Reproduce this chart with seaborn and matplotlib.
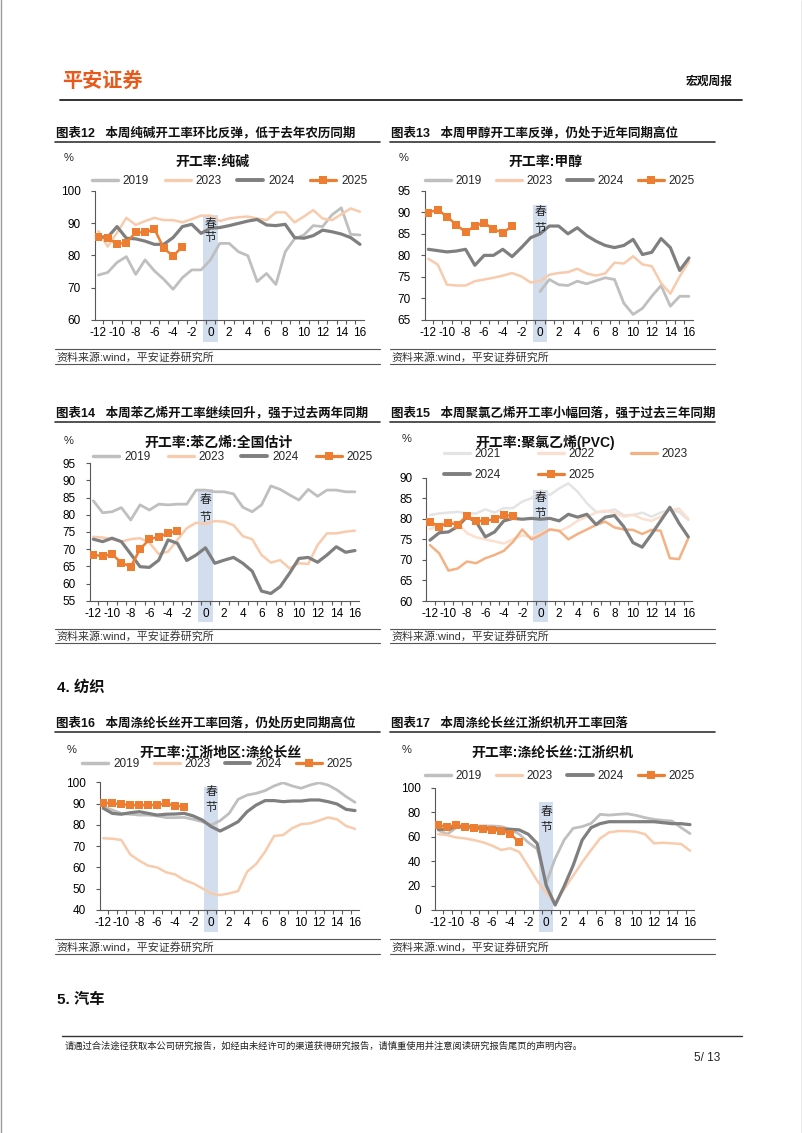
import numpy as np
import matplotlib
matplotlib.use("Agg")
import matplotlib.pyplot as plt
import seaborn as sns
from matplotlib.lines import Line2D

W, H = 802, 1133
sns.set_style("white")
plt.rcParams['font.family'] = ['Liberation Sans', 'Noto Sans CJK SC', 'DejaVu Sans']
plt.rcParams['axes.unicode_minus'] = False
CJK = ['Noto Sans CJK SC', 'Liberation Sans', 'DejaVu Sans']
MIX = ['Liberation Sans', 'Noto Sans CJK SC', 'DejaVu Sans']

# ---------------- data ----------------
weeks = list(range(-12, 17))
weeks_2025 = list(range(-12, -2))
weeks_from0 = list(range(0, 17))
tick_weeks = list(range(-12, 17, 2))

soda_2019 = [73.9, 74.7, 77.8, 79.6, 74.1, 78.6, 75.2, 72.6, 69.5, 73.1, 75.5, 75.5, 78.6, 83.7, 83.7,
             81.1, 79.9, 71.9, 74.4, 71.0, 81.1, 85.1, 86.3, 89.2, 88.9, 92.5, 94.7, 86.5, 86.3]
soda_2023 = [87.5, 82.7, 87.0, 91.6, 89.4, 90.6, 91.6, 90.9, 90.9, 90.2, 91.2, 92.3, 92.3, 90.6, 91.4,
             91.8, 92.0, 91.4, 90.9, 93.3, 93.3, 90.2, 92.0, 94.0, 91.4, 90.9, 92.7, 94.5, 93.5]
soda_2024 = [85.8, 85.6, 88.9, 85.3, 85.1, 84.4, 83.4, 83.4, 85.5, 88.9, 89.6, 86.8, 88.4, 88.6, 89.2,
             89.9, 90.6, 91.1, 89.4, 89.2, 89.6, 85.5, 85.3, 86.1, 87.8, 87.3, 86.6, 85.5, 83.4]
soda_2025 = [85.6, 85.3, 83.5, 83.9, 87.1, 87.1, 88.2, 82.2, 79.8, 82.7]

methanol_2019 = [71.6, 74.4, 73.2, 73.0, 74.0, 73.4, 74.1, 74.8, 74.4, 68.9, 66.3, 67.7, 70.5, 73.0,
                 68.2, 70.5, 70.5]
methanol_2023 = [79.2, 77.9, 73.2, 73.0, 73.0, 74.0, 74.4, 74.8, 75.3, 75.9, 75.1, 73.7, 74.0, 75.5, 75.9,
                 76.1, 76.9, 75.8, 75.3, 75.8, 78.3, 78.1, 79.8, 77.9, 77.5, 73.6, 71.1, 75.1, 78.6]
methanol_2024 = [81.4, 81.1, 80.8, 81.0, 81.4, 77.7, 80.0, 80.0, 81.4, 79.7, 81.8, 84.1, 85.0, 86.8, 86.8,
                 85.0, 86.4, 84.6, 83.3, 82.3, 81.8, 82.3, 83.7, 80.2, 80.7, 83.9, 81.8, 76.5, 79.4]
methanol_2025 = [89.9, 90.6, 89.0, 87.1, 85.4, 86.8, 87.6, 86.0, 85.3, 86.7]

styrene_2019 = [84.1, 80.6, 80.9, 82.1, 78.5, 82.9, 81.4, 83.1, 82.9, 83.1, 83.1, 87.2, 87.2, 86.7, 86.7,
                86.1, 82.2, 80.9, 82.9, 88.4, 87.4, 85.8, 84.3, 87.4, 85.4, 87.2, 87.2, 86.7, 86.7]
styrene_2023 = [73.6, 73.4, 72.9, 72.2, 72.9, 73.2, 71.9, 68.6, 69.3, 72.7, 76.1, 77.7, 77.3, 78.2, 78.0,
                77.0, 73.8, 72.9, 68.3, 66.1, 66.8, 64.4, 65.9, 65.7, 71.2, 74.6, 74.6, 75.1, 75.4]
styrene_2024 = [72.9, 72.2, 73.2, 72.2, 68.6, 64.9, 64.7, 66.8, 72.7, 71.7, 66.7, 68.3, 70.4, 65.9, 66.8,
                67.6, 65.9, 63.6, 57.8, 57.1, 59.1, 63.0, 67.3, 67.6, 66.2, 68.3, 70.7, 69.1, 69.6]
styrene_2025 = [68.3, 68.0, 68.5, 66.1, 64.9, 70.0, 72.9, 73.6, 74.6, 75.4]

pvc_2021 = [80.9, 81.3, 81.5, 81.7, 81.3, 81.3, 82.3, 81.5, 82.6, 82.6, 84.2, 85.0, 87.0, 85.8, 87.4,
            88.6, 86.6, 83.8, 81.7, 81.7, 82.3, 80.9, 80.9, 81.5, 80.5, 81.5, 82.1, 81.7, 79.7]
pvc_2022 = [77.5, 78.5, 79.5, 79.0, 76.5, 75.5, 75.0, 74.5, 74.0, 75.0, 76.0, 75.5, 76.5, 77.5, 77.0,
            78.0, 79.5, 80.5, 81.5, 82.0, 81.5, 80.5, 81.0, 80.0, 79.5, 80.5, 82.0, 82.5, 80.0]
pvc_2023 = [73.6, 71.6, 67.4, 67.9, 69.6, 69.2, 70.4, 71.2, 72.2, 74.4, 77.4, 75.0, 76.1, 77.4, 77.1,
            75.0, 76.3, 77.4, 78.5, 79.3, 77.9, 77.4, 77.3, 76.3, 77.3, 77.1, 70.4, 70.2, 75.3]
pvc_2024 = [74.8, 76.6, 76.8, 78.1, 80.5, 79.3, 75.6, 76.8, 79.5, 80.1, 79.9, 80.1, 79.9, 80.1, 79.5,
            81.1, 80.4, 81.1, 78.6, 80.4, 80.8, 78.1, 74.2, 73.1, 76.2, 79.5, 82.8, 78.9, 75.6]
pvc_2025 = [79.3, 78.1, 79.0, 78.6, 80.7, 79.5, 79.5, 79.9, 80.9, 80.7]

poy_2019 = [88.5, 87.0, 85.4, 85.0, 84.6, 84.6, 84.2, 83.4, 83.4, 83.5, 82.6, 81.5, 79.9, 82.0, 85.4,
            92.0, 94.0, 94.8, 96.1, 98.3, 99.8, 98.3, 97.2, 98.7, 99.8, 98.7, 96.4, 93.3, 90.6]
poy_2023 = [73.7, 73.5, 72.9, 66.1, 63.2, 60.8, 60.0, 57.7, 56.7, 54.1, 52.5, 50.2, 47.8, 47.0, 47.8,
            48.9, 58.0, 61.6, 67.4, 74.8, 75.2, 78.4, 80.3, 80.7, 82.0, 83.5, 82.6, 79.5, 78.1]
poy_2024 = [87.8, 85.4, 85.0, 85.7, 86.2, 85.4, 84.6, 85.0, 85.1, 85.4, 84.2, 82.3, 79.2, 77.1, 79.2,
            81.5, 86.2, 89.3, 91.4, 91.4, 90.9, 91.2, 91.2, 91.7, 91.7, 90.9, 89.8, 87.3, 86.7]
poy_2025 = [90.4, 90.1, 89.7, 89.3, 89.3, 89.3, 89.3, 90.1, 88.9, 88.6]

loom_2019 = [65.2, 62.0, 67.4, 68.7, 68.7, 68.7, 68.7, 68.2, 66.0, 62.0, 55.3, 49.9, 22.0, 42.0, 57.3,
             66.8, 68.2, 70.8, 78.2, 77.6, 78.2, 78.7, 77.4, 75.5, 74.1, 73.3, 72.8, 67.4, 62.5]
loom_2023 = [62.0, 61.2, 59.3, 58.5, 57.1, 55.3, 52.6, 49.1, 50.5, 47.5, 36.0, 24.0, 14.0, 6.0, 17.0,
             28.0, 39.0, 49.0, 58.5, 63.5, 64.5, 64.5, 64.0, 62.0, 54.5, 55.0, 54.5, 54.0, 48.5]
loom_2024 = [66.0, 66.0, 67.9, 68.2, 67.4, 66.8, 66.6, 66.0, 66.0, 65.5, 62.0, 54.4, 20.2, 4.0, 19.4,
             36.4, 57.1, 67.4, 70.6, 72.2, 72.2, 72.2, 72.2, 72.2, 72.2, 71.4, 70.6, 70.6, 69.8]
loom_2025 = [69.3, 68.2, 69.3, 68.2, 66.8, 66.0, 65.5, 64.7, 62.5, 55.3]

# ---------------- styles ----------------
C2019 = '#BFBFBF'
C2023 = '#F8CBAD'
C2024 = '#7F7F7F'
C2025 = '#ED7D31'
C2021 = '#E4E4E4'
C2022 = '#FBE0CF'
C2023B = '#F4B183'
BAND = '#D2DDEE'
AXC = '#595959'

S19 = dict(color=C2019, lw=2.0)
S23 = dict(color=C2023, lw=1.8)
S24 = dict(color=C2024, lw=2.3)
S25 = dict(color=C2025, lw=1.8, marker='s')
S21 = dict(color=C2021, lw=1.8)
S22 = dict(color=C2022, lw=1.8)
S23B = dict(color=C2023B, lw=1.8)

fig = plt.figure(figsize=(W / 100, H / 100), dpi=100)


def fx(x):
    return x / W


def fy(y):
    return 1 - y / H


def hline(x0, x1, y, lw=1.0, color='#333333'):
    fig.add_artist(Line2D([fx(x0), fx(x1)], [fy(y), fy(y)], color=color, lw=lw,
                          transform=fig.transFigure))


def draw_chart(box, ylim, yticks, series, title, title_xy, pct_xy, leg_xy, ncol,
               colsp, band_frac, spring_y, leg_order=None, labelsp=0.5):
    l, r, t, b = box
    ax = fig.add_axes([l / W, 1 - b / H, (r - l) / W, (b - t) / H])
    ax.set_axisbelow(False)
    band = ax.axvspan(-0.8, 0.8, ymin=band_frac[0], ymax=band_frac[1], color=BAND, lw=0,
                      zorder=1)
    band.set_clip_on(False)
    handles, labels = [], []
    for lab, xs, ys, st in series:
        mk = st.get('marker')
        sns.lineplot(x=xs, y=ys, ax=ax, color=st['color'], linewidth=st['lw'],
                     marker=mk, markersize=5.5 if mk else None, markeredgewidth=0 if mk else None,
                     zorder=3, legend=False)
        handles.append(Line2D([], [], color=st['color'], lw=st['lw'] + 0.5, marker=mk,
                              markersize=6 if mk else None, markeredgewidth=0))
        labels.append(lab)
    ax.set_xlim(-12.4, 16.4)
    ax.set_ylim(*ylim)
    ax.set_yticks(yticks)
    ax.set_xticks(tick_weeks)
    ax.set_xticks(np.arange(-11.5, 16.0, 1.0), minor=True)
    ax.set_xlabel('')
    ax.set_ylabel('')
    for s in ['top', 'right']:
        ax.spines[s].set_visible(False)
    for s in ['left', 'bottom']:
        ax.spines[s].set_color(AXC)
        ax.spines[s].set_linewidth(0.8)
    ax.tick_params(axis='x', which='major', bottom=True, length=0, pad=5, labelsize=8.5,
                   labelcolor='#000000')
    ax.tick_params(axis='x', which='minor', bottom=True, length=3, width=0.8, color=AXC,
                   direction='out')
    ax.tick_params(axis='y', which='major', left=True, length=3, width=0.8, color=AXC,
                   direction='out', pad=7, labelsize=8.5, labelcolor='#000000')
    # spring festival label
    for ch, yy in zip(['春', '节'], spring_y):
        fig.text(fx(l + (0 - (-12.4)) / 28.8 * (r - l)), fy(yy), ch, ha='center', va='center',
                 fontsize=8.5, family=CJK, color='#222222')
    fig.text(fx(title_xy[0]), fy(title_xy[1]), title, ha='center', va='center', fontsize=10,
             fontweight='bold', family=MIX, color='#111111')
    fig.text(fx(pct_xy[0]), fy(pct_xy[1]), '%', ha='center', va='center', fontsize=8,
             family=MIX)
    if leg_order is not None:
        handles = [handles[i] for i in leg_order]
        labels = [labels[i] for i in leg_order]
    fig.legend(handles, labels, loc='center', bbox_to_anchor=(fx(leg_xy[0]), fy(leg_xy[1])),
               ncol=ncol, frameon=False, handlelength=2.2, handletextpad=0.4,
               columnspacing=colsp, borderpad=0, borderaxespad=0, labelspacing=labelsp,
               prop={'family': MIX, 'size': 8.5})
    return ax


def panel_frame(x0, x1, title, y_title, y_tline, y_src):
    fig.text(fx(x0 + 1), fy(y_title), title, ha='left', va='center', fontsize=9,
             fontweight='bold', family=MIX, color='#111111')
    hline(x0, x1, y_tline, lw=1.2, color='#333333')
    hline(x0, x1, y_src - 8, lw=0.8, color='#555555')
    fig.text(fx(x0 + 1), fy(y_src), '资料来源:wind，平安证券研究所', ha='left', va='center',
             fontsize=7.9, family=MIX, color='#333333')
    hline(x0, x1, y_src + 6.5, lw=0.8, color='#555555')


# ---------------- page header ----------------
fig.text(fx(62), fy(80), '平安证券', ha='left', va='center', fontsize=14.5, fontweight='bold',
         family=CJK, color='#E85A1C')
fig.text(fx(733), fy(81), '宏观周报', ha='right', va='center', fontsize=8.5, fontweight='bold',
         family=CJK, color='#111111')
hline(60, 742, 100, lw=1.3, color='#222222')

# ---------------- chart 12 ----------------
panel_frame(55, 380, '图表12   本周纯碱开工率环比反弹，低于去年农历同期', 133, 141.7, 357.3)
draw_chart((94.6, 363.7, 190.7, 320), (60, 100), [60, 70, 80, 90, 100],
           [('2019', weeks, soda_2019, S19), ('2023', weeks, soda_2023, S23),
            ('2024', weeks, soda_2024, S24), ('2025', weeks_2025, soda_2025, S25)],
           '开工率:纯碱', (212, 162.3), (69, 158.3), (229.5, 180.7), 4, 1.35,
           (-0.17, 0.812), (223, 238))

# ---------------- chart 13 ----------------
panel_frame(390, 715, '图表13   本周甲醇开工率反弹，仍处于近年同期高位', 133, 141.7, 357.3)
draw_chart((424.6, 692.7, 190.7, 320), (65, 95), [65, 70, 75, 80, 85, 90, 95],
           [('2019', weeks_from0, methanol_2019, S19), ('2023', weeks, methanol_2023, S23),
            ('2024', weeks, methanol_2024, S24), ('2025', weeks_2025, methanol_2025, S25)],
           '开工率:甲醇', (545, 162.3), (404, 158.3), (560, 180.7), 4, 1.2,
           (-0.17, 0.889), (212, 228))

# ---------------- chart 14 ----------------
panel_frame(55, 380, '图表14   本周苯乙烯开工率继续回升，强于过去两年同期', 413.3, 421.7, 636.7)
draw_chart((89.6, 358.7, 463.3, 600.7), (55, 95), [55, 60, 65, 70, 75, 80, 85, 90, 95],
           [('2019', weeks, styrene_2019, S19), ('2023', weeks, styrene_2023, S23),
            ('2024', weeks, styrene_2024, S24), ('2025', weeks_2025, styrene_2025, S25)],
           '开工率:苯乙烯:全国估计', (219, 442.7), (69, 440.7), (233, 457.3), 4, 1.45,
           (-0.155, 0.813), (500, 517))

# ---------------- chart 15 ----------------
panel_frame(390, 715, '图表15   本周聚氯乙烯开工率小幅回落，强于过去三年同期', 413.3, 421.7, 636.7)
draw_chart((426.3, 692, 477.7, 601), (60, 90), [60, 65, 70, 75, 80, 85, 90],
           [('2021', weeks, pvc_2021, S21), ('2022', weeks, pvc_2022, S22),
            ('2023', weeks, pvc_2023, S23B), ('2024', weeks, pvc_2024, S24),
            ('2025', weeks_2025, pvc_2025, S25)],
           '开工率:聚氯乙烯(PVC)', (545, 442.3), (407, 439), (566, 464.5), 3, 3.1,
           (-0.17, 0.90), (498, 513), leg_order=[0, 3, 1, 4, 2], labelsp=0.75)

# ---------------- section 4 ----------------
fig.text(fx(57), fy(687), '4. 纺织', ha='left', va='center', fontsize=11, fontweight='bold',
         family=MIX, color='#111111')

# ---------------- chart 16 ----------------
panel_frame(55, 380, '图表16   本周涤纶长丝开工率回落，仍处历史同期高位', 723.3, 731.7, 947.3)
draw_chart((99.7, 358.6, 782.3, 910), (40, 100), [40, 50, 60, 70, 80, 90, 100],
           [('2019', weeks, poy_2019, S19), ('2023', weeks, poy_2023, S23),
            ('2024', weeks, poy_2024, S24), ('2025', weeks_2025, poy_2025, S25)],
           '开工率:江浙地区:涤纶长丝', (220, 752.7), (71.7, 750), (217.5, 764), 4, 1.2,
           (-0.172, 0.963), (792, 807))

# ---------------- chart 17 ----------------
panel_frame(390, 715, '图表17   本周涤纶长丝江浙织机开工率回落', 723.3, 731.7, 947.3)
draw_chart((434.7, 693.6, 787.7, 910), (0, 100), [0, 20, 40, 60, 80, 100],
           [('2019', weeks, loom_2019, S19), ('2023', weeks, loom_2023, S23),
            ('2024', weeks, loom_2024, S24), ('2025', weeks_2025, loom_2025, S25)],
           '开工率:涤纶长丝:江浙织机', (552.5, 752.7), (407, 750), (560, 775.7), 4, 1.2,
           (-0.18, 0.883), (812, 827))

# ---------------- section 5 & footer ----------------
fig.text(fx(57), fy(1000), '5. 汽车', ha='left', va='center', fontsize=11, fontweight='bold',
         family=MIX, color='#111111')
hline(62, 742, 1036, lw=1.0, color='#333333')
fig.text(fx(65), fy(1046), '请通过合法途径获取本公司研究报告，如经由未经许可的渠道获得研究报告，请慎重使用并注意阅读研究报告尾页的声明内容。',
         ha='left', va='center', fontsize=6.7, family=CJK, color='#222222')
fig.text(fx(720), fy(1058), '5/ 13', ha='right', va='center', fontsize=8.5, family=MIX,
         color='#222222')

# page border
fig.add_artist(Line2D([fx(0.5), fx(0.5)], [0, 1], color='#9A9A9A', lw=1.0,
                      transform=fig.transFigure))
fig.add_artist(Line2D([fx(801.5), fx(801.5)], [0, 1], color='#9A9A9A', lw=1.0,
                      transform=fig.transFigure))

fig.savefig('out.png', dpi=100)
